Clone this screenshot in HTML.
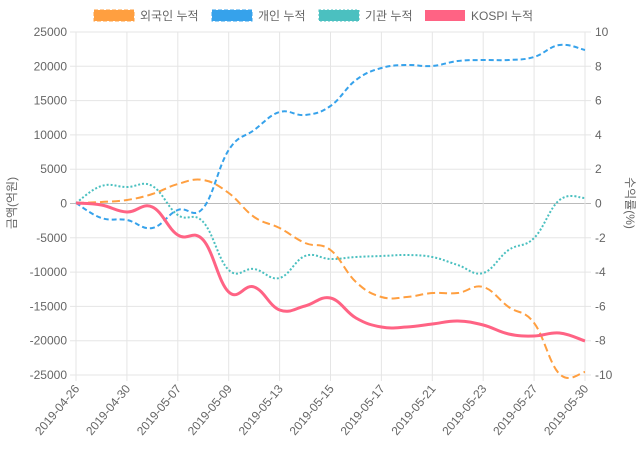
<!DOCTYPE html>
<html><head><meta charset="utf-8"><style>
body{margin:0;background:#fff;font-family:"Liberation Sans","Noto Sans CJK KR",sans-serif;}
svg text{font-family:"Liberation Sans","Noto Sans CJK KR",sans-serif;fill:#666;font-size:12px;}
</style></head><body>
<svg id="s" width="640" height="450" xmlns="http://www.w3.org/2000/svg">
<g id="grid" stroke="#e5e5e5" stroke-width="1"></g>
<g id="labels"></g>
<g id="lines" fill="none"></g>
<rect x="94" y="10" width="40" height="11" fill="#ff9f40" stroke="#ff9f40" stroke-dasharray="4,2"/>
<text x="140" y="20">외국인 누적</text>
<rect x="212" y="10" width="40" height="11" fill="#36a2eb" stroke="#36a2eb" stroke-dasharray="4,2"/>
<text x="258" y="20">개인 누적</text>
<rect x="319" y="10" width="40" height="11" fill="#4bc0c0" stroke="#4bc0c0" stroke-dasharray="2,2"/>
<text x="365" y="20">기관 누적</text>
<rect x="425" y="10" width="40" height="11" fill="#ff6384"/>
<text x="471" y="20">KOSPI 누적</text>
<text transform="translate(16,203) rotate(-90)" text-anchor="middle">금액(억원)</text>
<text transform="translate(626,203) rotate(90)" text-anchor="middle">수익률(%)</text>
</svg>
<script>
const g=document.getElementById('grid'),L=document.getElementById('labels'),Ln=document.getElementById('lines');
const ns='http://www.w3.org/2000/svg';
function el(p,t,a,txt){const e=document.createElementNS(ns,t);for(const k in a)e.setAttribute(k,a[k]);if(txt!=null)e.textContent=txt;p.appendChild(e);return e;}
const x0=76,x1=585,y0=32,y1=375;
for(let i=0;i<=10;i++){const y=y0+(y1-y0)*i/10;
 el(g,'line',{x1:x0-6,x2:x1+6,y1:y,y2:y,stroke:i==5?'#bbb':'#e5e5e5'});
 el(L,'text',{x:x0-9,y:y+4,'text-anchor':'end'},String(25000-5000*i));
 el(L,'text',{x:x1+10,y:y+4},String(10-2*i));}
const dates=['2019-04-26','2019-04-30','2019-05-07','2019-05-09','2019-05-13','2019-05-15','2019-05-17','2019-05-21','2019-05-23','2019-05-27','2019-05-30'];
for(let i=0;i<=10;i++){const x=x0+(x1-x0)*i/10;
 el(g,'line',{x1:x,x2:x,y1:y0,y2:y1+6});
 el(L,'text',{transform:`translate(${x+4},${y1+14}) rotate(-50)`,'text-anchor':'end'},dates[i]);}
function path(ys){const p=ys.map((y,i)=>[x0+(x1-x0)*i/20,y]);let d=`M${p[0][0]},${p[0][1]}`;
 for(let i=0;i<p.length-1;i++){const a=p[Math.max(0,i-1)],b=p[i],c=p[i+1],e=p[Math.min(p.length-1,i+2)],t=0.2;
  d+=` C${b[0]+(c[0]-a[0])*t},${b[1]+(c[1]-a[1])*t} ${c[0]-(e[0]-b[0])*t},${c[1]-(e[1]-b[1])*t} ${c[0]},${c[1]}`;}return d;}
const pink=[203,205,212,207,235,240,292,287,310,306,298,318,327,327,324,321,325,334,336,333,341];
const orng=[203,202,200,194,184,180,193,217,228,243,250,282,297,297,293,293,287,307,323,374,372];
const blue=[203,218,220,228,210,208,150,130,112,115,106,80,68,65,66,61,60,60,57,45,50];
const teal=[203,186,187,186,215,222,270,269,278,256,259,257,256,255,257,265,273,250,238,200,198];
el(Ln,'path',{d:path(teal),stroke:'#4bc0c0','stroke-width':2,'stroke-dasharray':'2,2'});
el(Ln,'path',{d:path(blue),stroke:'#36a2eb','stroke-width':2,'stroke-dasharray':'5,3'});
el(Ln,'path',{d:path(orng),stroke:'#ff9f40','stroke-width':2,'stroke-dasharray':'8,4'});
el(Ln,'path',{d:path(pink),stroke:'#ff6384','stroke-width':3});
</script>
</body></html>
